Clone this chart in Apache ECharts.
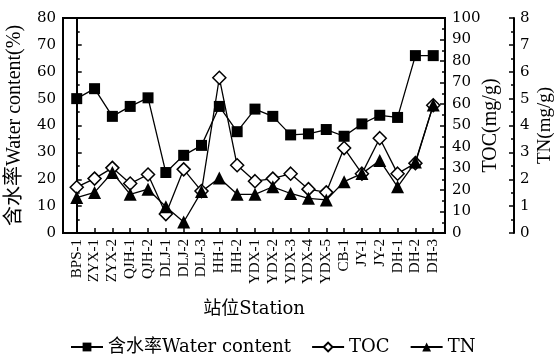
<!DOCTYPE html>
<html>
<head>
<meta charset="utf-8">
<script src="https://cdn.jsdelivr.net/npm/echarts@6/dist/echarts.min.js"></script>
<style>
  html, body {margin: 0; padding: 0; background: #fff;}
  #chart {width: 554px; height: 357px;}
</style>
</head>
<body>
<div id="chart"></div>
<script>
// 站位
const stations = ['BPS-1', 'ZYX-1', 'ZYX-2', 'QJH-1', 'QJH-2', 'DLJ-1', 'DLJ-2', 'DLJ-3', 'HH-1', 'HH-2',
  'YDX-1', 'YDX-2', 'YDX-3', 'YDX-4', 'YDX-5', 'CB-1', 'JY-1', 'JY-2', 'DH-1', 'DH-2', 'DH-3']
// 含水率 (%)
const waterContent = [50.0, 53.7, 43.4, 47.1, 50.3, 22.5, 28.9, 32.6, 47.1, 37.7,
  46.1, 43.4, 36.5, 36.9, 38.5, 36.0, 40.6, 43.8, 43.0, 66.0, 66.0]
// TOC (mg/g)
const toc = [21.3, 25.3, 30.3, 23.0, 27.2, 8.8, 29.6, 19.5, 72.2, 31.5,
  24.1, 25.3, 27.6, 20.4, 18.9, 39.5, 27.6, 44.1, 27.6, 32.5, 59.4]
// TN (mg/g)
const tn = [1.32, 1.51, 2.25, 1.44, 1.63, 0.98, 0.41, 1.54, 2.05, 1.44,
  1.44, 1.72, 1.47, 1.29, 1.23, 1.91, 2.21, 2.70, 1.72, 2.64, 4.76]

const serif = "'Liberation Serif', 'Noto Sans CJK SC', serif"
const wide = "'DejaVu Serif', 'Noto Sans CJK SC', serif"
const idx = stations.map((s, i) => i)
const pairs = arr => arr.map((v, i) => [i, v])

const axisLine = {lineStyle: {color: '#000', width: 2}}
const yAxisBase = {
  type: 'value',
  nameLocation: 'middle',
  nameRotate: 90,
  nameMoveOverlap: false,
  nameTextStyle: {fontFamily: serif, fontSize: 20, color: '#000'},
  axisLine: {show: true, ...axisLine},
  axisTick: {show: true, inside: true, length: 5, lineStyle: {color: '#000', width: 1.5}},
  minorTick: {show: true, splitNumber: 2, length: 3, lineStyle: {color: '#000', width: 1.5}},
  axisLabel: {fontFamily: wide, fontSize: 15, color: '#000', margin: 7},
  splitLine: {show: false}
}

const chart = echarts.init(document.getElementById('chart'))
chart.setOption({
  animation: false,
  backgroundColor: '#fff',
  grid: {
    left: 63, right: 109, top: 18, bottom: 124,
    containLabel: false, outerBoundsMode: 'none',
    show: true, borderColor: '#000', borderWidth: 2
  },
  legend: {
    left: 65, top: 333,
    itemWidth: 32, itemHeight: 11, itemGap: 20,
    textStyle: {fontFamily: wide, fontSize: 18, color: '#000'},
    data: ['含水率Water content', 'TOC', 'TN']
  },
  xAxis: {
    type: 'value',
    min: -0.77, max: 20.66,
    name: '站位Station',
    nameLocation: 'middle',
    nameGap: 67,
    nameMoveOverlap: false,
    nameTextStyle: {fontFamily: wide, fontSize: 18, color: '#000'},
    axisLine: axisLine,
    axisTick: {show: true, inside: true, length: 5, customValues: idx, lineStyle: {color: '#000', width: 1.5}},
    axisLabel: {
      customValues: idx, rotate: 90, fontFamily: serif, fontSize: 15, color: '#000', margin: 6,
      formatter: v => stations[Math.round(v)]
    },
    splitLine: {show: false}
  },
  yAxis: [
    {...yAxisBase, position: 'left', min: 0, max: 80, interval: 10,
      name: '含水率Water content(%)', nameGap: 38},
    {...yAxisBase, position: 'right', min: 0, max: 100, interval: 10,
      name: 'TOC(mg/g)', nameGap: 36},
    {...yAxisBase, position: 'right', offset: 69, min: 0, max: 8, interval: 1,
      name: 'TN(mg/g)', nameGap: 22,
      nameTextStyle: {...yAxisBase.nameTextStyle, fontSize: 19},
      axisLabel: {...yAxisBase.axisLabel, margin: 6}}
  ],
  series: [
    {
      name: '含水率Water content', type: 'line', yAxisIndex: 0, data: pairs(waterContent),
      symbol: 'rect', symbolSize: 11,
      lineStyle: {color: '#000', width: 1.3},
      itemStyle: {color: '#000'}
    },
    {
      name: 'TOC', type: 'line', yAxisIndex: 1, data: pairs(toc),
      symbol: 'diamond', symbolSize: 13,
      lineStyle: {color: '#000', width: 1.3},
      itemStyle: {color: '#fff', borderColor: '#000', borderWidth: 1.5}
    },
    {
      name: 'TN', type: 'line', yAxisIndex: 2, data: pairs(tn),
      symbol: 'triangle', symbolSize: 13,
      lineStyle: {color: '#000', width: 1.3},
      itemStyle: {color: '#000'}
    }
  ]
})
window.addEventListener('resize', () => chart.resize())
</script>
</body>
</html>
